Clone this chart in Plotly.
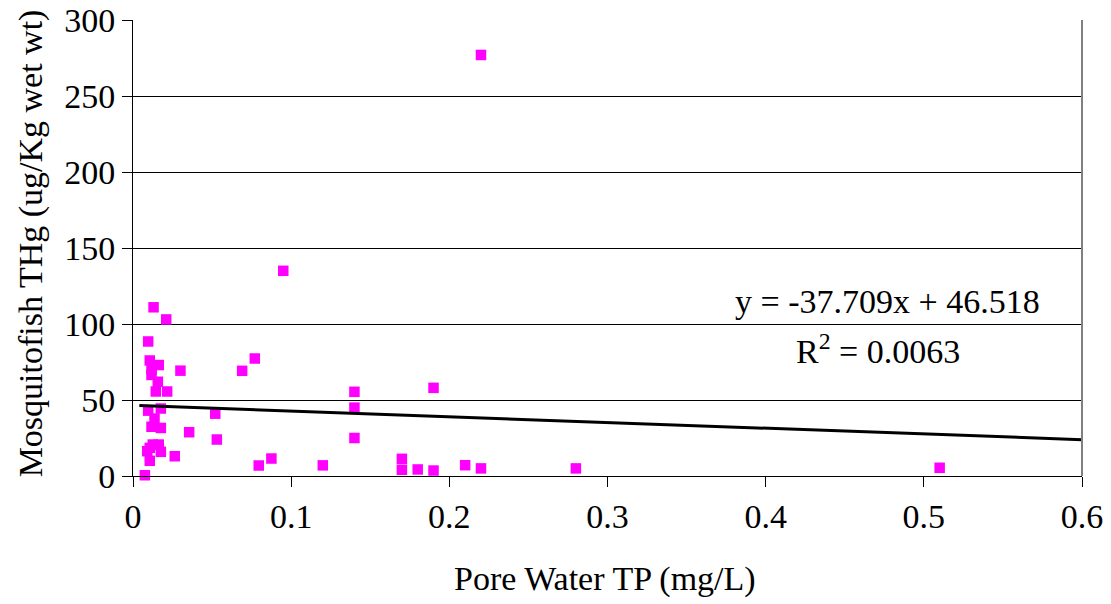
import plotly.graph_objects as go

# Data
tp_x = [0.22, 0.095, 0.013, 0.021, 0.0096, 0.0106, 0.0163, 0.0117, 0.0117, 0.030,
        0.069, 0.077, 0.0157, 0.0144, 0.0216, 0.0096, 0.0176, 0.052, 0.0136, 0.0117,
        0.0176, 0.0355, 0.053, 0.0125, 0.0163, 0.009, 0.0176, 0.0264, 0.0106, 0.0075,
        0.0795, 0.0875, 0.12, 0.14, 0.14, 0.14, 0.17, 0.17, 0.18, 0.19,
        0.19, 0.21, 0.22, 0.28, 0.51, 0.0106]
thg_y = [277, 135, 111, 103, 88.5, 76, 73, 70, 66.5, 69.3,
         69.2, 77.3, 62, 55.6, 55.6, 43, 44.4, 41, 37.8, 32.4,
         31.6, 28.8, 24, 20.7, 20.7, 16.3, 15.9, 13, 10, 0.5,
         6.9, 11.5, 7, 55.4, 45, 25, 11.3, 4.1, 4.3, 58,
         3.6, 7.1, 5, 5, 5.4, 18.5]

slope = -37.709
intercept = 46.518
r_squared = 0.0063
trend_x = [0.004, 0.6]
trend_y = [slope * v + intercept for v in trend_x]

x_ticks = [0, 0.1, 0.2, 0.3, 0.4, 0.5, 0.6]
y_ticks = [0, 50, 100, 150, 200, 250, 300]

FONT = "Liberation Serif, Times New Roman, serif"

# plot-area geometry in pixels
L, R, T, B = 132.5, 1082.5, 20, 476.5
W, H = R - L, B - T


def px(xp, yp):
    return (xp - L) / W, (B - yp) / H


fig = go.Figure()
fig.add_trace(go.Scatter(
    x=tp_x, y=thg_y, mode="markers",
    marker=dict(symbol="square", size=10.5, color="#FF00FF", line=dict(width=0)),
    showlegend=False, cliponaxis=False))
fig.add_trace(go.Scatter(
    x=trend_x, y=trend_y, mode="lines",
    line=dict(color="black", width=3), showlegend=False))

fig.update_layout(
    width=1111, height=604,
    margin=dict(l=132.5, r=1111 - 1082.5, t=20, b=604 - 476.5),
    paper_bgcolor="white", plot_bgcolor="white",
    font=dict(family=FONT, size=34, color="black"),
    xaxis=dict(
        range=[0, 0.6], tickvals=x_ticks, ticktext=[("%g" % v) for v in x_ticks],
        showgrid=False, zeroline=False, automargin=False,
        showline=True, linecolor="black", linewidth=1,
        ticks="outside", ticklen=10, tickcolor="black",
        tickfont=dict(family=FONT, size=34),
    ),
    yaxis=dict(
        range=[0, 300], tickvals=y_ticks,
        showgrid=True, gridcolor="black", gridwidth=1, zeroline=False, automargin=False,
        showline=True, linecolor="black", linewidth=1,
        ticks="outside", ticklen=10, tickcolor="black",
        tickfont=dict(family=FONT, size=34),
    ),
)

# right border of the plot area
fig.add_shape(type="line", xref="paper", yref="paper", x0=1, x1=1, y0=0, y1=1,
              line=dict(color="#808080", width=2))

ax, ay = px(605, 580)
fig.add_annotation(x=ax, y=ay, xref="paper", yref="paper", showarrow=False,
                   text="Pore Water TP (mg/L)", font=dict(family=FONT, size=34),
                   xanchor="center", yanchor="middle")
ax, ay = px(30, 244)
fig.add_annotation(x=ax, y=ay, xref="paper", yref="paper", showarrow=False,
                   text="Mosquitofish THg (ug/Kg wet wt)", textangle=-90,
                   font=dict(family=FONT, size=34),
                   xanchor="center", yanchor="middle")
ax, ay = px(888, 302)
fig.add_annotation(x=ax, y=ay, xref="paper", yref="paper", showarrow=False,
                   text="y = %.3fx + %.3f" % (slope, intercept),
                   font=dict(family=FONT, size=34), xanchor="center", yanchor="middle")
ax, ay = px(878, 349)
fig.add_annotation(x=ax, y=ay, xref="paper", yref="paper", showarrow=False,
                   text="R<sup>2</sup> = %.4f" % r_squared,
                   font=dict(family=FONT, size=34), xanchor="center", yanchor="middle")

fig.write_html("out.html")
